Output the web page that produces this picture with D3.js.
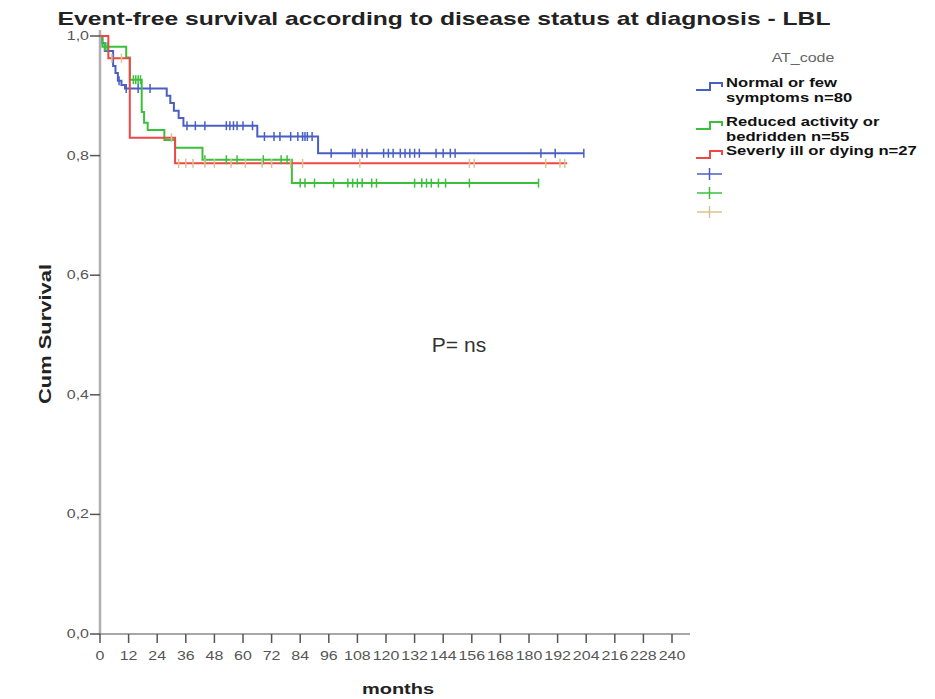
<!DOCTYPE html>
<html lang="en">
<head>
<meta charset="UTF-8">
<script src="https://d3js.org/d3.v7.min.js"></script>
<style>
  body { margin: 0; background: #fff; font-family: "Liberation Sans", Arial, sans-serif; }
  svg text { font-family: "Liberation Sans", Arial, sans-serif; }
</style>
</head>
<body>
<svg id="chart" width="935" height="699"></svg>
<script>
// ---- data ----
const xTicks = d3.range(0, 241, 12);
const yTicks = [0, 0.2, 0.4, 0.6, 0.8, 1.0];

// step points: [month, cumulative survival after that month]
const normalSteps = [[0,1],[1,0.988],[2,0.975],[5.5,0.95],[6.5,0.938],[7.5,0.925],[9,0.918],[10.5,0.912],
  [28,0.9],[29.5,0.888],[31,0.875],[33,0.863],[35,0.85],[66,0.832],[91.5,0.804]];
const normalEnd = 203;
const normalCensored = [8,11,16,21,36.5,40,44,53,54.5,56,57.5,60,64,69,73,75.5,80,83,85,86,87,89,
  97,106,107,110,112,119,121,123,126,128,130,132,134,141,144,147,149,185,191,203];

const reducedSteps = [[0,1],[1,0.982],[11,0.964],[12.5,0.927],[17.5,0.873],[18.5,0.855],[20,0.843],
  [27,0.826],[31.5,0.813],[43,0.793],[80.5,0.754]];
const reducedEnd = 184;
const reducedCensored = [2,3,14,15,16,17,44,53,57.5,68.5,76,78.5,84,86,90,98,104,106,108,110,114,116,
  132,135,137,139,142,145,155,184];

const severeSteps = [[0,1],[3.5,0.963],[12.5,0.83],[31.5,0.787]];
const severeEnd = 196;
const severeCensored = [5,9,30,33,36,39,44,48,55,61,68,72,80,85,109,155,157,187,193,195];

const groups = [
  { label: ["Normal or few", "symptoms n=80"], steps: normalSteps, end: normalEnd, cens: normalCensored, color: "#4a5fc4", censColor: "#4a5fc4" },
  { label: ["Reduced activity or", "bedridden n=55"], steps: reducedSteps, end: reducedEnd, cens: reducedCensored, color: "#3cbf3c", censColor: "#3cbf3c" },
  { label: ["Severly ill or dying n=27"], steps: severeSteps, end: severeEnd, cens: severeCensored, color: "#f04646", censColor: "#d6c590" }
];

const SX = 1.33; // the source image is stretched sideways
const svg = d3.select("#chart");

function stretch(sel, k) {
  sel.each(function() {
    const w = this.getComputedTextLength();
    this.setAttribute("textLength", w * (k || SX));
    this.setAttribute("lengthAdjust", "spacingAndGlyphs");
  });
  return sel;
}

const x = d3.scaleLinear().domain([0, 240]).range([100, 672]);
const y = d3.scaleLinear().domain([0, 1]).range([634, 36]);

// title
svg.append("text")
  .attr("x", 444).attr("y", 25)
  .attr("text-anchor", "middle")
  .attr("font-size", 19).attr("font-weight", "bold").attr("fill", "#222")
  .attr("textLength", 773).attr("lengthAdjust", "spacingAndGlyphs")
  .text("Event-free survival according to disease status at diagnosis - LBL");

// axes
svg.append("line").attr("x1", 100).attr("x2", 100).attr("y1", 30).attr("y2", 635)
  .attr("stroke", "#b0b0b0").attr("stroke-width", 2.5);
svg.append("line").attr("x1", 99).attr("x2", 690).attr("y1", 634).attr("y2", 634)
  .attr("stroke", "#8a8a8a").attr("stroke-width", 1.5);

const yAx = svg.append("g");
yAx.selectAll("line").data(yTicks).join("line")
  .attr("x1", 90).attr("x2", 100).attr("y1", d => y(d)).attr("y2", d => y(d))
  .attr("stroke", "#555").attr("stroke-width", 1.5);
yAx.selectAll("text").data(yTicks).join("text")
  .attr("x", 89).attr("y", d => y(d) + 4)
  .attr("text-anchor", "end").attr("font-size", 12).attr("fill", "#555")
  .text(d => d3.format(".1f")(d).replace(".", ","))
  .call(stretch);

const xAx = svg.append("g");
xAx.selectAll("line").data(xTicks).join("line")
  .attr("x1", d => x(d)).attr("x2", d => x(d)).attr("y1", 634).attr("y2", 643)
  .attr("stroke", "#555").attr("stroke-width", 1.5);
xAx.selectAll("text").data(xTicks).join("text")
  .attr("x", d => x(d)).attr("y", 660)
  .attr("text-anchor", "middle").attr("font-size", 12).attr("fill", "#555")
  .text(d => d)
  .call(stretch);

// axis titles
svg.append("text")
  .attr("transform", "translate(51,334) rotate(-90)")
  .attr("text-anchor", "middle").attr("font-size", 17).attr("font-weight", "bold").attr("fill", "#222")
  .attr("textLength", 140).attr("lengthAdjust", "spacingAndGlyphs")
  .text("Cum Survival");
svg.append("text")
  .attr("x", 398).attr("y", 694)
  .attr("text-anchor", "middle").attr("font-size", 15).attr("font-weight", "bold").attr("fill", "#222")
  .text("months")
  .call(stretch);

// curves
const lineGen = d3.line().x(d => x(d[0])).y(d => y(d[1])).curve(d3.curveStepAfter);

function survAt(steps, t) {
  let s = steps[0][1];
  for (const p of steps) if (p[0] <= t) s = p[1];
  return s;
}

groups.forEach(g => {
  const pts = g.steps.concat([[g.end, g.steps[g.steps.length - 1][1]]]);
  svg.append("path").datum(pts)
    .attr("fill", "none").attr("stroke", g.color).attr("stroke-width", 2)
    .attr("d", lineGen);
});
groups.forEach(g => {
  svg.append("g").selectAll("line").data(g.cens).join("line")
    .attr("x1", d => x(d)).attr("x2", d => x(d))
    .attr("y1", d => y(survAt(g.steps, d)) - 4.5)
    .attr("y2", d => y(survAt(g.steps, d)) + 4.5)
    .attr("stroke", g.censColor).attr("stroke-width", 1.5);
});

// annotation
svg.append("text")
  .attr("x", 459).attr("y", 352)
  .attr("text-anchor", "middle").attr("font-size", 21).attr("fill", "#333")
  .text("P= ns");

// legend
svg.append("text")
  .attr("x", 803).attr("y", 62)
  .attr("text-anchor", "middle").attr("font-size", 12).attr("fill", "#666")
  .text("AT_code").call(stretch);

const legY = [90, 129, 158];
groups.forEach((g, i) => {
  const ly = legY[i];
  svg.append("path")
    .attr("d", `M696,${ly} H710 V${ly - 7} H722 V${ly - 3}`)
    .attr("fill", "none").attr("stroke", g.color).attr("stroke-width", 2);
  g.label.forEach((t, j) => {
    svg.append("text")
      .attr("x", 726).attr("y", ly - 3 + j * 15)
      .attr("font-size", 12.5).attr("font-weight", "bold").attr("fill", "#111")
      .text(t).call(stretch);
  });
});
const plusY = [174, 193, 212];
groups.forEach((g, i) => {
  const py = plusY[i];
  svg.append("line").attr("x1", 697).attr("x2", 722).attr("y1", py).attr("y2", py)
    .attr("stroke", g.censColor).attr("stroke-width", 1.5);
  svg.append("line").attr("x1", 709.5).attr("x2", 709.5).attr("y1", py - 6).attr("y2", py + 6)
    .attr("stroke", g.censColor).attr("stroke-width", 1.5);
});
</script>
</body>
</html>
